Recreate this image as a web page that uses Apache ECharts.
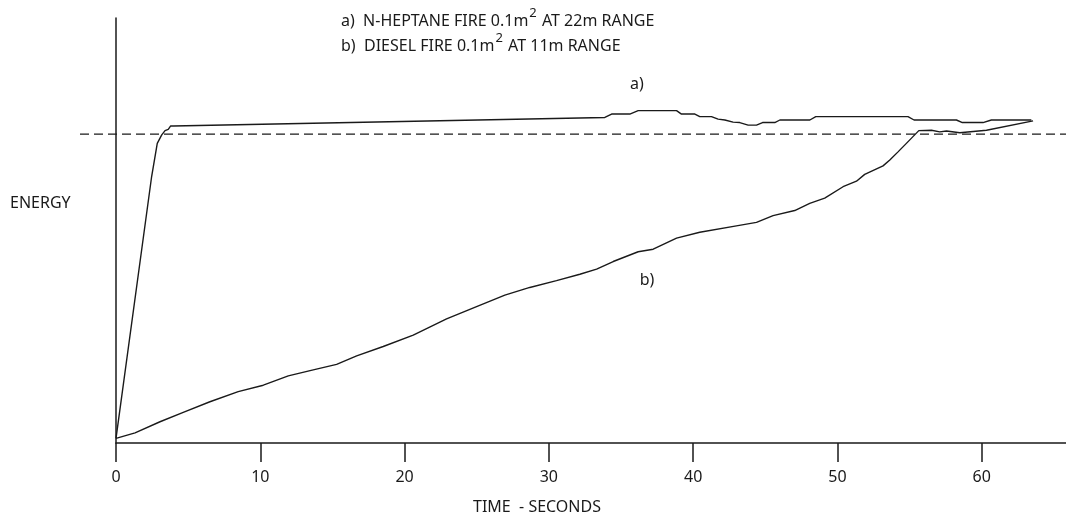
<!DOCTYPE html>
<html>
<head>
<meta charset="utf-8">
<script src="https://cdn.jsdelivr.net/npm/echarts@6/dist/echarts.min.js"></script>
<style>
html,body{margin:0;padding:0;background:#fff;}
#chart{width:1066px;height:521px;}
</style>
</head>
<body>
<div id="chart"></div>
<script>
// ---- data (time in seconds, energy in arbitrary units 0-100) ----
const heptaneTime   = [0, 2.47, 2.86, 3.17, 3.40, 3.62, 3.79, 3.97, 33.88, 34.35, 35.61, 36.19, 38.85, 39.19, 40.12, 40.46, 41.27, 41.73, 42.20, 42.77, 43.23, 43.81, 44.39, 44.81, 45.66, 46.01, 48.09, 48.50, 54.89, 55.31, 58.25, 58.66, 60.09, 60.67, 63.44];
const heptaneEnergy = [1.1, 62.7, 70.5, 72.5, 73.5, 73.8, 74.6, 74.6, 76.6, 77.4, 77.4, 78.2, 78.2, 77.4, 77.4, 76.8, 76.8, 76.2, 76.0, 75.5, 75.4, 74.8, 74.8, 75.4, 75.4, 76.0, 76.0, 76.8, 76.8, 76.0, 76.0, 75.4, 75.4, 76.0, 76.0];
const dieselTime   = [0, 1.32, 3.05, 4.66, 6.51, 8.47, 10.21, 11.94, 13.67, 15.29, 16.68, 18.52, 20.60, 22.91, 24.99, 26.95, 28.68, 30.53, 32.15, 33.31, 34.46, 36.19, 37.23, 38.85, 40.46, 43.00, 44.39, 45.54, 47.04, 48.08, 49.12, 50.39, 51.32, 51.89, 53.16, 53.63, 54.20, 54.78, 55.64, 56.52, 57.09, 57.56, 58.48, 60.33, 63.56];
const dieselEnergy = [1.1, 2.4, 5.0, 7.2, 9.7, 12.1, 13.6, 15.8, 17.2, 18.5, 20.5, 22.7, 25.4, 29.2, 32.1, 34.8, 36.6, 38.2, 39.7, 40.9, 42.7, 45.0, 45.6, 48.2, 49.6, 51.1, 51.9, 53.5, 54.7, 56.4, 57.6, 60.3, 61.6, 63.2, 65.2, 66.6, 68.5, 70.5, 73.5, 73.6, 73.2, 73.4, 73.0, 73.6, 75.8];
const thresholdEnergy = 72.7;
const legendLines = ['a)  N-HEPTANE FIRE 0.1m{sup|2} AT 22m RANGE', 'b)  DIESEL FIRE 0.1m{sup|2} AT 11m RANGE'];
const curveLabels = ['a)', 'b)'];
const yAxisTitle = 'ENERGY';
const xAxisTitle = 'TIME  - SECONDS';

const FONT = "'Noto Sans', sans-serif";
const INK = '#1a1a1a';

function pairs(xs, ys){ return xs.map((x,i)=>[x, ys[i]]); }

const chart = echarts.init(document.getElementById('chart'), null, {renderer:'canvas'});
const supRich = { sup: { fontSize: 13, fontFamily: FONT, color: INK, verticalAlign: 'top', lineHeight: 14, padding:[0,1,0,1] } };

chart.setOption({
  backgroundColor: '#fff',
  animation: false,
  grid: [
    // axis scale runs 0..70 s; the visible window ends at ~65.8 s (right edge of the page)
    { left: 116, right: -60, top: 18, bottom: 78, outerBoundsMode: 'none', containLabel: false },
    { left: 80, right: 0, top: 18, bottom: 78, outerBoundsMode: 'none', containLabel: false }
  ],
  xAxis: [
    {
      gridIndex: 0, type: 'value', min: 0, max: 70, interval: 10,
      axisLine: { show: true, onZero: false, lineStyle: { color: INK, width: 1.5 } },
      axisTick: { show: true, length: 19, lineStyle: { color: INK, width: 1.5 } },
      axisLabel: { show: true, margin: 26, fontSize: 16, fontFamily: FONT, color: INK, showMaxLabel: false },
      splitLine: { show: false }
    },
    { gridIndex: 1, type: 'value', min: 0, max: 1, show: false }
  ],
  yAxis: [
    {
      gridIndex: 0, type: 'value', min: 0, max: 100,
      axisLine: { show: true, onZero: false, lineStyle: { color: INK, width: 1.5 } },
      axisTick: { show: false }, axisLabel: { show: false }, splitLine: { show: false }
    },
    { gridIndex: 1, type: 'value', min: 0, max: 100, show: false }
  ],
  series: [
    {
      name: 'threshold', type: 'line', xAxisIndex: 1, yAxisIndex: 1,
      data: [[0, thresholdEnergy], [1, thresholdEnergy]],
      showSymbol: false, silent: true,
      lineStyle: { color: INK, width: 1.2, type: [9, 5] }
    },
    {
      name: 'a', type: 'line', data: pairs(heptaneTime, heptaneEnergy),
      showSymbol: false, lineStyle: { color: INK, width: 1.4 }
    },
    {
      name: 'b', type: 'line', data: pairs(dieselTime, dieselEnergy),
      showSymbol: false, lineStyle: { color: INK, width: 1.4 }
    }
  ],
  graphic: [
    { type: 'text', left: 341, top: 7, style: { text: legendLines[0], fontSize: 16, lineHeight: 28, fontFamily: FONT, fill: INK, rich: supRich } },
    { type: 'text', left: 341, top: 32, style: { text: legendLines[1], fontSize: 16, lineHeight: 28, fontFamily: FONT, fill: INK, rich: supRich } },
    { type: 'text', x: 637, y: 84, style: { text: curveLabels[0], fontSize: 16, fontFamily: FONT, fill: INK, align: 'center', verticalAlign: 'middle' } },
    { type: 'text', x: 647, y: 280, style: { text: curveLabels[1], fontSize: 16, fontFamily: FONT, fill: INK, align: 'center', verticalAlign: 'middle' } },
    { type: 'text', x: 10, y: 203, style: { text: yAxisTitle, fontSize: 16, fontFamily: FONT, fill: INK, align: 'left', verticalAlign: 'middle' } },
    { type: 'text', x: 537, y: 507, style: { text: xAxisTitle, fontSize: 16, fontFamily: FONT, fill: INK, align: 'center', verticalAlign: 'middle' } }
  ]
});
</script>
</body>
</html>
